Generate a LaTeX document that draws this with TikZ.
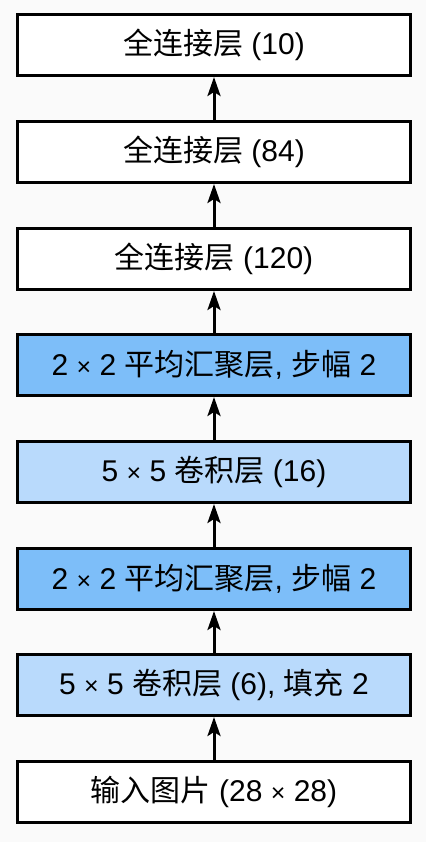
\documentclass[tikz,border=0pt]{standalone}
\usepackage{fontspec}
\setmainfont{Liberation Sans}
\newfontfamily\cjk{Noto Sans CJK SC}
\usetikzlibrary{arrows.meta}
\definecolor{bg}{HTML}{FAFAFA}
\definecolor{poolblue}{HTML}{7DBEF9}
\definecolor{convblue}{HTML}{B9DAFC}
\newcommand{\zh}[1]{{\cjk #1}}
\newcommand{\tms}{{\fontsize{25}{30}\selectfont ×}}
\tikzset{
  layerbox/.style={draw=black, line width=3pt, minimum width=393pt, minimum height=61pt,
    inner sep=0pt, font=\fontsize{30}{36}\selectfont},
  plainbox/.style={layerbox, fill=white},
  poolbox/.style={layerbox, fill=poolblue},
  convbox/.style={layerbox, fill=convblue},
  flow/.style={line width=3pt, -{Stealth[length=19pt, width=13pt, inset=4pt]}}
}
\begin{document}
\begin{tikzpicture}[x=1pt, y=1pt]
\path[fill=bg] (0,0) rectangle (426,842);
\useasboundingbox (0,0) rectangle (426,842);
\node[plainbox] (fc10)  at (214,797) {\zh{全连接层} (10)};
\node[plainbox] (fc84)  at (214,690) {\zh{全连接层} (84)};
\node[plainbox] (fc120) at (214,583) {\zh{全连接层} (120)};
\node[poolbox]  (pool2) at (214,477) {2 \tms{} 2 \zh{平均汇聚层}, \zh{步幅} 2};
\node[convbox]  (conv2) at (214,370) {5 \tms{} 5 \zh{卷积层} (16)};
\node[poolbox]  (pool1) at (214,263) {2 \tms{} 2 \zh{平均汇聚层}, \zh{步幅} 2};
\node[convbox]  (conv1) at (214,157) {5 \tms{} 5 \zh{卷积层} (6), \zh{填充} 2};
\node[plainbox] (input) at (214,50)  {\zh{输入图片} (28 \tms{} 28)};
\draw[flow] (input) -- (conv1);
\draw[flow] (conv1) -- (pool1);
\draw[flow] (pool1) -- (conv2);
\draw[flow] (conv2) -- (pool2);
\draw[flow] (pool2) -- (fc120);
\draw[flow] (fc120) -- (fc84);
\draw[flow] (fc84) -- (fc10);
\end{tikzpicture}
\end{document}
